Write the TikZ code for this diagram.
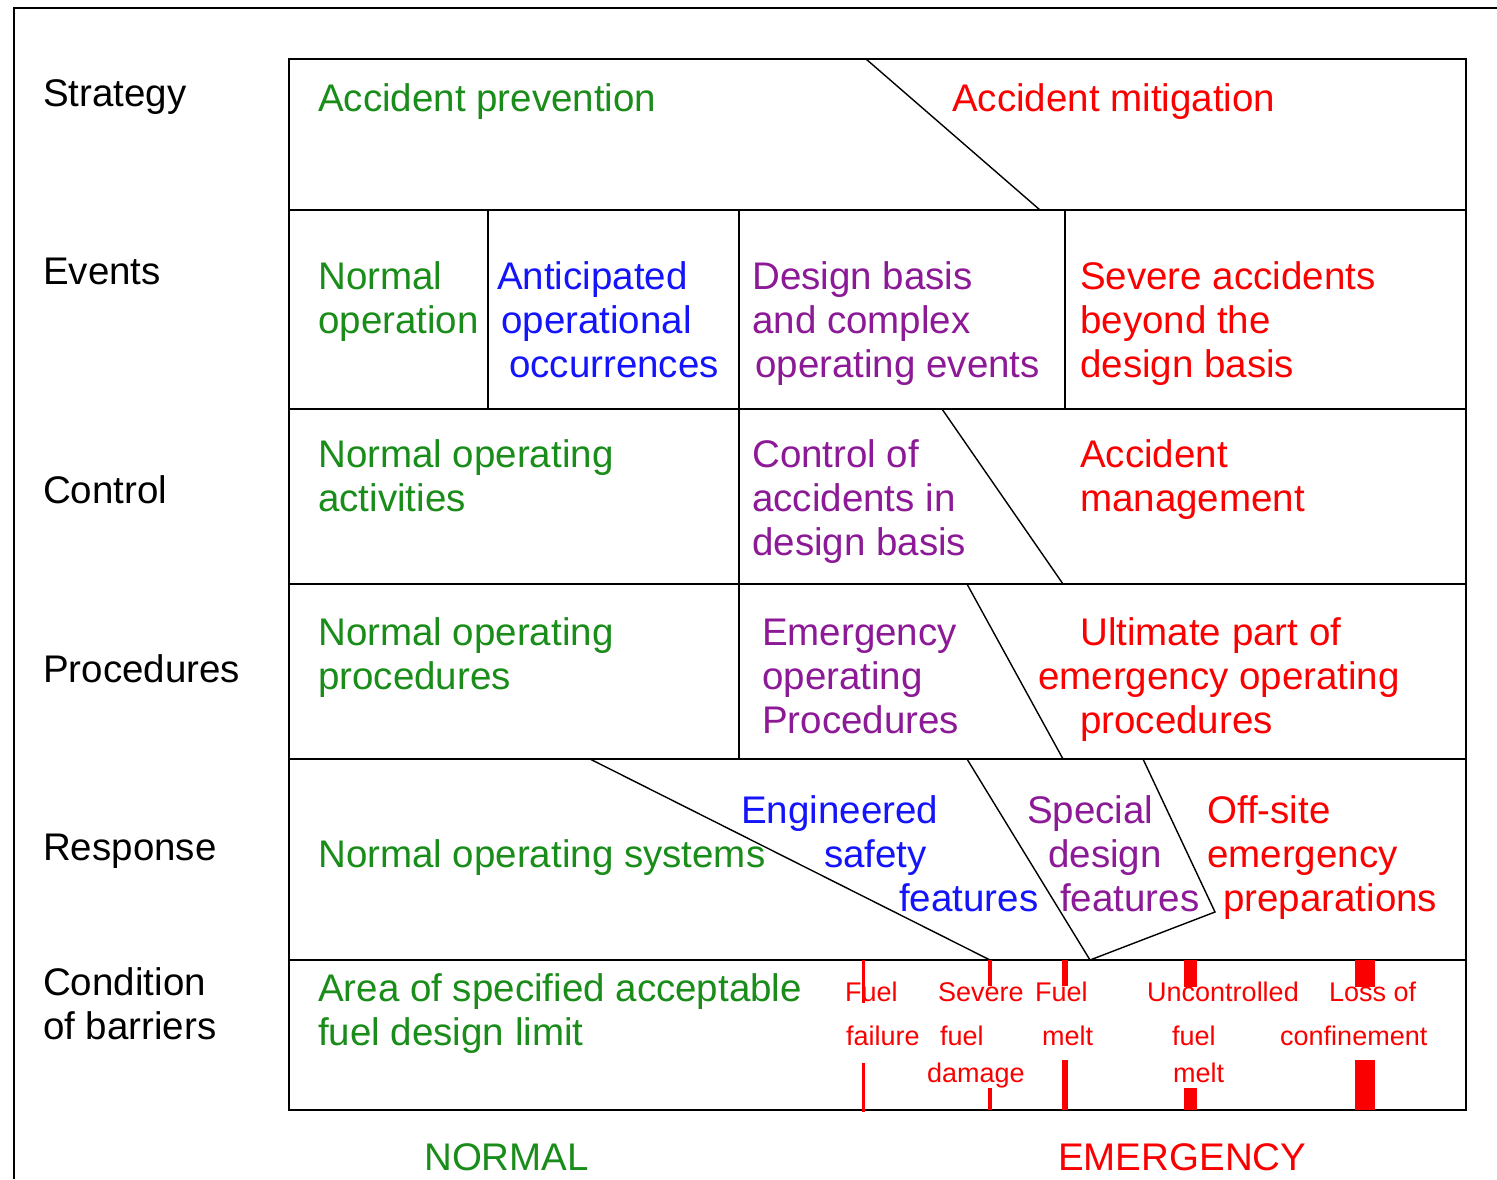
\documentclass[tikz,border=0pt]{standalone}
\usepackage{fontspec}
\setmainfont{Liberation Sans}
\definecolor{cgreen}{RGB}{25,140,25}
\definecolor{cblue}{RGB}{20,20,250}
\definecolor{cpurple}{RGB}{140,25,150}
\definecolor{cred}{RGB}{250,0,0}
\begin{document}
\begin{tikzpicture}[x=1pt,y=-1pt,
  gridline/.style={line width=2pt,black},
  diagline/.style={line width=1.4pt,black},
  lbl/.style={anchor=base west,inner sep=0,font=\fontsize{38.5}{44}\selectfont},
  sml/.style={anchor=base west,inner sep=0,font=\fontsize{27}{32}\selectfont,text=cred},
  redbar/.style={fill=cred,draw=none}]
\useasboundingbox (0,0) rectangle (1497,1179);
\fill[white] (0,0) rectangle (1497,1179);
% outer frame (only left and top visible)
\draw[line width=2pt] (14,1179) -- (14,8) -- (1497,8);
% table frame and rows
\draw[gridline] (289,59) rectangle (1466,1110);
\foreach \yy in {210,409,584,759,960} \draw[gridline] (289,\yy) -- (1466,\yy);
% vertical dividers
\draw[gridline] (488,210) -- (488,409);
\draw[gridline] (739,210) -- (739,759);
\draw[gridline] (1065,210) -- (1065,409);
% diagonals
\draw[diagline] (866,59) -- (1040,210);
\draw[diagline] (942,409) -- (1063,584);
\draw[diagline] (967,584) -- (1063,759);
\draw[diagline] (590,759) -- (990,960);
\draw[diagline] (967,759) -- (1090,960);
\draw[diagline] (1143,759) -- (1215,912) -- (1090,960);
% red bars in the bottom row
\fill[redbar] (862,960) rectangle (864.5,1003);
\fill[redbar] (862,1063) rectangle (864.5,1112);
\fill[redbar] (987.5,960) rectangle (991.5,986);
\fill[redbar] (987.5,1088) rectangle (991.5,1110);
\fill[redbar] (1061.5,960) rectangle (1067.5,986);
\fill[redbar] (1061.5,1060) rectangle (1067.5,1110);
\fill[redbar] (1183.5,960) rectangle (1197,987);
\fill[redbar] (1183.5,1088) rectangle (1197,1110);
\fill[redbar] (1355,960) rectangle (1375,987);
\fill[redbar] (1355,1060) rectangle (1375,1110);
% row headings
\node[lbl] (hStrat) at (43,106) {Strategy};
\node[lbl] (hEvents) at (43,284) {Events};
\node[lbl] (hControl) at (43,503) {Control};
\node[lbl] (hProc) at (43,682) {Procedures};
\node[lbl] (hResp) at (43,860) {Response};
\node[lbl] (hCond1) at (43,995) {Condition};
\node[lbl] (hCond2) at (43,1039) {of barriers};
% strategy
\node[lbl,text=cgreen] (sPrev) at (318,111) {Accident prevention};
\node[lbl,text=cred] (sMit) at (952,111) {Accident mitigation};
% events
\node[lbl,text=cgreen] (eN1) at (318,289) {Normal};
\node[lbl,text=cgreen] (eN2) at (318,333) {operation};
\node[lbl,text=cblue] (eA1) at (497,289) {Anticipated};
\node[lbl,text=cblue] (eA2) at (501,333) {operational};
\node[lbl,text=cblue] (eA3) at (509,377) {occurrences};
\node[lbl,text=cpurple] (eD1) at (752,289) {Design basis};
\node[lbl,text=cpurple] (eD2) at (752,333) {and complex};
\node[lbl,text=cpurple] (eD3) at (755,377) {operating events};
\node[lbl,text=cred] (eS1) at (1080,289) {Severe accidents};
\node[lbl,text=cred] (eS2) at (1080,333) {beyond the};
\node[lbl,text=cred] (eS3) at (1080,377) {design basis};
% control
\node[lbl,text=cgreen] (cN1) at (318,467) {Normal operating};
\node[lbl,text=cgreen] (cN2) at (318,511) {activities};
\node[lbl,text=cpurple] (cC1) at (752,467) {Control of};
\node[lbl,text=cpurple] (cC2) at (752,511) {accidents in};
\node[lbl,text=cpurple] (cC3) at (752,555) {design basis};
\node[lbl,text=cred] (cM1) at (1080,467) {Accident};
\node[lbl,text=cred] (cM2) at (1080,511) {management};
% procedures
\node[lbl,text=cgreen] (pN1) at (318,645) {Normal operating};
\node[lbl,text=cgreen] (pN2) at (318,689) {procedures};
\node[lbl,text=cpurple] (pE1) at (762,645) {Emergency};
\node[lbl,text=cpurple] (pE2) at (762,689) {operating};
\node[lbl,text=cpurple] (pE3) at (762,733) {Procedures};
\node[lbl,text=cred] (pU1) at (1080,645) {Ultimate part of};
\node[lbl,text=cred] (pU2) at (1038,689) {emergency operating};
\node[lbl,text=cred] (pU3) at (1080,733) {procedures};
% response
\node[lbl,text=cgreen] (rN) at (318,867) {Normal operating systems};
\node[lbl,text=cblue] (rE1) at (741,823) {Engineered};
\node[lbl,text=cblue] (rE2) at (824,867) {safety};
\node[lbl,text=cblue] (rE3) at (899,911) {features};
\node[lbl,text=cpurple] (rS1) at (1027,823) {Special};
\node[lbl,text=cpurple] (rS2) at (1048,867) {design};
\node[lbl,text=cpurple] (rS3) at (1060,911) {features};
\node[lbl,text=cred] (rO1) at (1207,823) {Off-site};
\node[lbl,text=cred] (rO2) at (1207,867) {emergency};
\node[lbl,text=cred] (rO3) at (1223,911) {preparations};
% condition of barriers
\node[lbl,text=cgreen] (bA1) at (318,1001) {Area of specified acceptable};
\node[lbl,text=cgreen] (bA2) at (318,1045) {fuel design limit};
\node[sml] (f1a) at (845,1001) {Fuel};
\node[sml] (f1b) at (846,1045) {failure};
\node[sml] (f2a) at (938,1001) {Severe};
\node[sml] (f2b) at (940,1045) {fuel};
\node[sml] (f2c) at (927,1082) {damage};
\node[sml] (f3a) at (1035,1001) {Fuel};
\node[sml] (f3b) at (1042,1045) {melt};
\node[sml] (f4a) at (1147,1001) {Uncontrolled};
\node[sml] (f4b) at (1172,1045) {fuel};
\node[sml] (f4c) at (1173,1082) {melt};
\node[sml] (f5a) at (1329,1001) {Loss of};
\node[sml] (f5b) at (1280,1045) {confinement};
% bottom captions
\node[lbl,text=cgreen] (capN) at (424,1170) {NORMAL};
\node[lbl,text=cred] (capE) at (1058,1170) {EMERGENCY};
\end{tikzpicture}
\end{document}
